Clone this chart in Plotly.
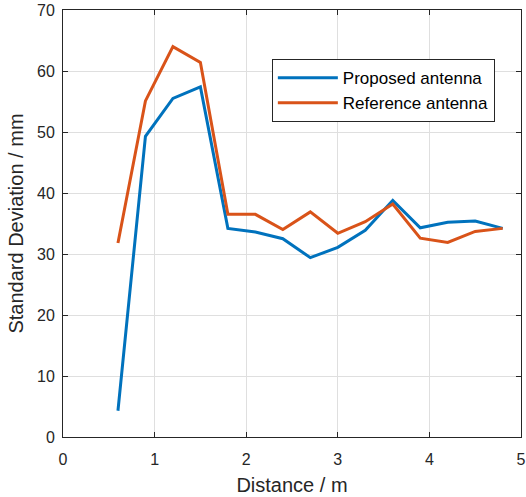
import plotly.graph_objects as go

distance = [0.6, 0.9, 1.2, 1.5, 1.8, 2.1, 2.4, 2.7, 3.0, 3.3, 3.6, 3.9, 4.2, 4.5, 4.8]
proposed = [4.3, 49.3, 55.5, 57.4, 34.2, 33.6, 32.5, 29.4, 31.1, 33.9, 38.8, 34.3, 35.2, 35.4, 34.2]
reference = [31.8, 55.1, 64.0, 61.4, 36.5, 36.5, 34.0, 36.9, 33.4, 35.3, 38.2, 32.6, 31.9, 33.7, 34.2]
x_ticks = [0, 1, 2, 3, 4, 5]
y_ticks = [0, 10, 20, 30, 40, 50, 60, 70]

fig = go.Figure()
fig.add_trace(go.Scatter(x=distance, y=proposed, mode="lines", name="Proposed antenna",
                         line=dict(color="#0072BD", width=3)))
fig.add_trace(go.Scatter(x=distance, y=reference, mode="lines", name="Reference antenna",
                         line=dict(color="#D95319", width=3)))

axis_common = dict(showline=True, linecolor="#262626", linewidth=1, mirror="ticks",
                   ticks="inside", ticklen=5, tickcolor="#262626", automargin=False,
                   showgrid=True, gridcolor="#dfdfdf", gridwidth=1, zeroline=False,
                   tickfont=dict(family="Liberation Sans, Arial, sans-serif", size=16, color="#262626"))

fig.update_layout(
    width=526, height=497,
    margin=dict(l=63, r=5, t=10, b=60),
    plot_bgcolor="white", paper_bgcolor="white",
    font=dict(family="Liberation Sans, Arial, sans-serif", color="#262626"),
    xaxis=dict(range=[0, 5], tickvals=x_ticks, ticklabelstandoff=8,
               title=dict(text="Distance / m", font=dict(size=20), standoff=10), **axis_common),
    yaxis=dict(range=[0, 70], tickvals=y_ticks, ticklabelstandoff=4,
               title=dict(text="Standard Deviation / mm", font=dict(size=20), standoff=8), **axis_common),
    legend=dict(x=0.456, y=0.885, xanchor="left", yanchor="top",
                bgcolor="white", bordercolor="#262626", borderwidth=1,
                font=dict(size=17, color="black"), tracegroupgap=0,
                itemwidth=60),
    showlegend=True,
)

fig.write_html("out.html", config={"displayModeBar": False},
               post_script="document.body.style.margin='0px';")
